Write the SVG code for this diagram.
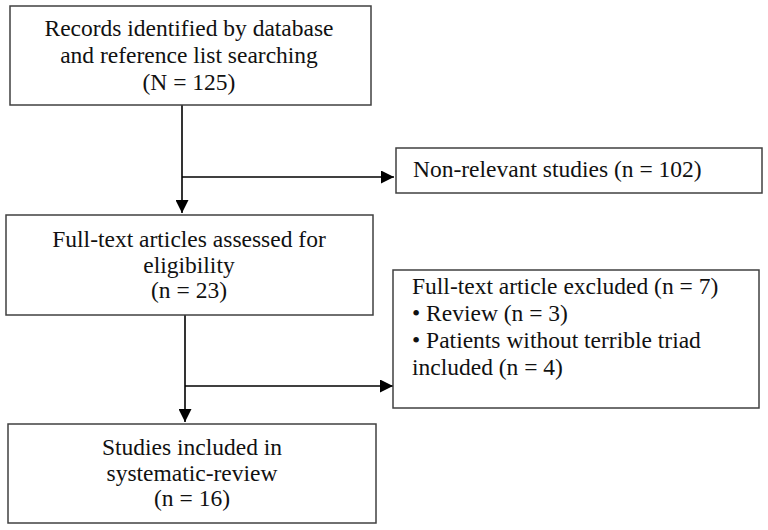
<svg xmlns="http://www.w3.org/2000/svg" width="768" height="530" viewBox="0 0 768 530">
<defs>
<style>
.box{fill:#fff;stroke:#404040;stroke-width:1.5}
.t{font-family:"Liberation Serif","Times New Roman",serif;font-size:23.5px;fill:#111}
.c{text-anchor:middle}
.ln{fill:none;stroke:#000;stroke-width:1.6}
</style>
<marker id="ah" viewBox="0 0 10 10" refX="10" refY="5" markerWidth="13" markerHeight="13" markerUnits="userSpaceOnUse" orient="auto">
<path d="M0,0 L10,5 L0,10 Z" fill="#000"/>
</marker>
</defs>
<rect width="768" height="530" fill="#fff"/>
<g id="connectors">
<line class="ln" x1="182" y1="105" x2="182" y2="213" marker-end="url(#ah)"/>
<line class="ln" x1="182" y1="177" x2="394" y2="177" marker-end="url(#ah)"/>
<line class="ln" x1="185" y1="315" x2="185" y2="422" marker-end="url(#ah)"/>
<line class="ln" x1="185" y1="386" x2="393" y2="386" marker-end="url(#ah)"/>
</g>
<g id="records">
<rect class="box" x="10" y="6" width="361" height="99"/>
<text class="t c" x="189" y="36">Records identified by database</text>
<text class="t c" x="189" y="63">and reference list searching</text>
<text class="t c" x="189" y="90">(N = 125)</text>
</g>
<g id="nonrelevant">
<rect class="box" x="396" y="148" width="366" height="45"/>
<text class="t" x="413" y="177">Non-relevant studies (n = 102)</text>
</g>
<g id="fulltext">
<rect class="box" x="6" y="215" width="367" height="100"/>
<text class="t c" x="189" y="247">Full-text articles assessed for</text>
<text class="t c" x="189" y="273">eligibility</text>
<text class="t c" x="189" y="298">(n = 23)</text>
</g>
<g id="excluded">
<rect class="box" x="393" y="270" width="366" height="138"/>
<text class="t" x="412" y="294">Full-text article excluded (n = 7)</text>
<text class="t" x="412" y="321">• Review (n = 3)</text>
<text class="t" x="412" y="348">• Patients without terrible triad</text>
<text class="t" x="412" y="375">included (n = 4)</text>
</g>
<g id="included">
<rect class="box" x="8" y="424" width="368" height="99"/>
<text class="t c" x="192" y="455">Studies included in</text>
<text class="t c" x="192" y="481">systematic-review</text>
<text class="t c" x="192" y="506">(n = 16)</text>
</g>
</svg>
